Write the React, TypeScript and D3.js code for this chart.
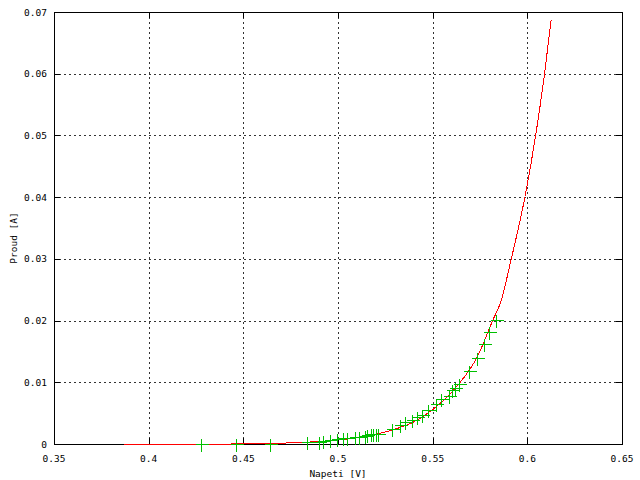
import React from "react";
import * as d3 from "d3";

const xTicks = [0.35, 0.4, 0.45, 0.5, 0.55, 0.6, 0.65];
const xTickLabels = ["0.35", "0.4", "0.45", "0.5", "0.55", "0.6", "0.65"];
const yTicks = [0, 0.01, 0.02, 0.03, 0.04, 0.05, 0.06, 0.07];
const yTickLabels = ["0", "0.01", "0.02", "0.03", "0.04", "0.05", "0.06", "0.07"];

// fitted curve (red)
const fitV = [0.3866, 0.42, 0.45, 0.47, 0.48, 0.49, 0.5, 0.51, 0.52, 0.53, 0.54, 0.5495, 0.557, 0.5641, 0.5733, 0.5813, 0.5859, 0.5912, 0.5984, 0.6041, 0.6088, 0.6123];
const fitI = [0, 0.00003, 0.0001, 0.00022, 0.00033, 0.0005, 0.00075, 0.0011, 0.0017, 0.0025, 0.0037, 0.0056, 0.0076, 0.01, 0.0142, 0.02, 0.0233, 0.03, 0.04, 0.05, 0.06, 0.0688];

// measured points (green)
const measV = [0.4275, 0.4461, 0.4641, 0.4835, 0.4901, 0.4922, 0.4958, 0.4996, 0.5025, 0.5049, 0.509, 0.5113, 0.5143, 0.5152, 0.5173, 0.5186, 0.5201, 0.5213, 0.5284, 0.5327, 0.5354, 0.5389, 0.5416, 0.5442, 0.5477, 0.5518, 0.5542, 0.5586, 0.5604, 0.562, 0.5641, 0.5692, 0.5733, 0.5771, 0.5798, 0.5833];
const measI = [0, 0, 0.00003, 0.0004, 0.0004, 0.0005, 0.0007, 0.0008, 0.0009, 0.0009, 0.0012, 0.0012, 0.0013, 0.0015, 0.0016, 0.0016, 0.0017, 0.0017, 0.0024, 0.0031, 0.0035, 0.0039, 0.0043, 0.0047, 0.0055, 0.0065, 0.0073, 0.0078, 0.0087, 0.0091, 0.0098, 0.0119, 0.014, 0.0162, 0.0181, 0.0201];

const W = 640;
const H = 480;
const L = 54, R = 622, T = 12, B = 444;
const FONT = "'DejaVu Sans Mono', monospace";

export default function App() {
  const x = d3.scaleLinear().domain([0.35, 0.65]).range([L, R]);
  const y = d3.scaleLinear().domain([0, 0.07]).range([B, T]);
  const fitPts: [number, number][] = fitV.map((v, i) => [v, fitI[i]]);
  const line = d3
    .line<[number, number]>()
    .x((d) => x(d[0]))
    .y((d) => y(d[1]))
    .curve(d3.curveMonotoneX);
  const rx = (v: number) => Math.round(x(v)) + 0.5;
  const ry = (v: number) => Math.round(y(v)) + 0.5;
  const gridColor = "#333";
  return (
    <div style={{ position: "absolute", left: 0, top: 0, width: W, height: H, background: "#fff" }}>
      <svg width={W} height={H} style={{ display: "block" }} fontFamily={FONT} fontSize={9.5}>
        <rect x={0} y={0} width={W} height={H} fill="#fff" />
        {/* grid */}
        {xTicks.slice(1, -1).map((t) => (
          <line key={"gx" + t} x1={rx(t)} x2={rx(t)} y1={T} y2={B} stroke={gridColor} strokeWidth={1} strokeDasharray="2,3" shapeRendering="crispEdges" />
        ))}
        {yTicks.slice(1, -1).map((t) => (
          <line key={"gy" + t} x1={L} x2={R} y1={ry(t)} y2={ry(t)} stroke={gridColor} strokeWidth={1} strokeDasharray="2,3" shapeRendering="crispEdges" />
        ))}
        {/* ticks */}
        {xTicks.map((t) => (
          <g key={"tx" + t}>
            <line x1={rx(t)} x2={rx(t)} y1={B} y2={B - 6} stroke="#000" shapeRendering="crispEdges" />
            <line x1={rx(t)} x2={rx(t)} y1={T} y2={T + 6} stroke="#000" shapeRendering="crispEdges" />
          </g>
        ))}
        {yTicks.map((t) => (
          <g key={"ty" + t}>
            <line x1={L} x2={L + 6} y1={ry(t)} y2={ry(t)} stroke="#000" shapeRendering="crispEdges" />
            <line x1={R} x2={R - 6} y1={ry(t)} y2={ry(t)} stroke="#000" shapeRendering="crispEdges" />
          </g>
        ))}
        {/* border */}
        <rect x={L + 0.5} y={T + 0.5} width={R - L} height={B - T} fill="none" stroke="#000" strokeWidth={1} shapeRendering="crispEdges" />
        {/* tick labels */}
        {xTicks.map((t, i) => (
          <text key={"lx" + t} x={x(t)} y={462} textAnchor="middle" fill="#000">
            {xTickLabels[i]}
          </text>
        ))}
        {yTicks.map((t, i) => (
          <text key={"ly" + t} x={47} y={y(t) + 3.5} textAnchor="end" fill="#000">
            {yTickLabels[i]}
          </text>
        ))}
        {/* axis titles */}
        <text x={(L + R) / 2} y={477} textAnchor="middle" fill="#000">Napeti [V]</text>
        <text transform={`translate(17,${238}) rotate(-90)`} textAnchor="middle" fill="#000">Proud [A]</text>
        {/* fit curve */}
        <path transform="translate(0.5,0.5)" d={line(fitPts) || ""} fill="none" stroke="#ff0000" strokeWidth={1} shapeRendering="crispEdges" />
        {/* data points */}
        {measV.map((v, i) => {
          const cx = Math.round(x(v)) + 0.5;
          const cy = Math.round(y(measI[i])) + 0.5;
          return (
            <g key={"p" + i} stroke="#00c000" strokeWidth={1} shapeRendering="crispEdges">
              <line x1={cx - 6} x2={cx + 7} y1={cy} y2={cy} />
              <line x1={cx} x2={cx} y1={cy - 6} y2={cy + 7} />
            </g>
          );
        })}
      </svg>
    </div>
  );
}
